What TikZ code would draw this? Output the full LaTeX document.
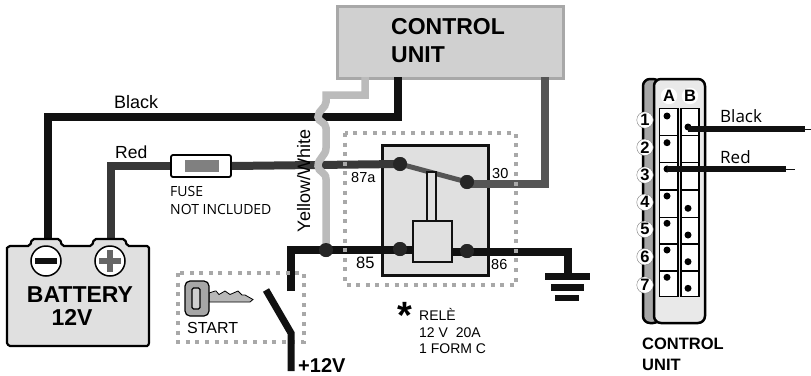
\documentclass[tikz,border=0pt]{standalone}
\usepackage{fontspec}
\setmainfont{Liberation Sans}
\newfontfamily\myr{Open Sans}
\definecolor{wblack}{HTML}{111111}
\definecolor{wred}{HTML}{383838}
\definecolor{wthirty}{HTML}{555555}
\definecolor{wgrey}{HTML}{BBBBBB}
\definecolor{boxfill}{HTML}{D0D0D0}
\definecolor{boxedge}{HTML}{A8A8A8}
\definecolor{relayfill}{HTML}{E0E0E0}
\definecolor{dotgrey}{HTML}{A8A8A8}
\definecolor{keygrey}{HTML}{A6A6A6}
\newcommand{\fs}[1]{\fontsize{#1}{#1}\selectfont}
\tikzset{
  wire/.style={line width=8pt,line join=miter,line cap=butt},
  dotbox/.style={draw=dotgrey,line width=3.5pt,dash pattern=on 4pt off 5.6pt},
  junction/.style={circle,fill=black!85,inner sep=0pt,minimum size=14pt},
  lbl/.style={inner sep=0pt,anchor=base west},
  lblc/.style={inner sep=0pt,anchor=base},
  pinA/.style={circle,fill=black,inner sep=0pt,minimum size=7pt},
  numc/.style={circle,fill=white,draw=black!50,line width=.4pt,inner sep=0pt,minimum size=16.5pt,font=\bfseries\fs{16.5}},
  cell/.style={draw=black,line width=1.2pt,fill=white},
}
\begin{document}
\begin{tikzpicture}[x=1pt,y=-1pt]
\useasboundingbox[fill=white] (0,0) rectangle (811,375);
% named anchors
\coordinate (cuGrey) at (365,77);
\coordinate (cuBlack) at (398,77);
\coordinate (cuThirty) at (545,77);
\coordinate (batNeg) at (48,240);
\coordinate (batPos) at (111,240);
\coordinate (gndTop) at (568,276);
\coordinate (startStub) at (291,291);
\coordinate (leverTop) at (266,290);
\coordinate (leverBot) at (291,333);
\coordinate (supply) at (291,371);
\coordinate (coilIn) at (425,250);
\coordinate (coilOut) at (440,252);
% control unit
\node[draw=boxedge,fill=boxfill,line width=2.5pt,minimum width=226pt,minimum height=72pt,inner sep=0pt,anchor=north west] (cu) at (336,5) {};
\node[lbl,font=\bfseries\fs{23}] (cuT1) at (391,34) {CONTROL};
\node[lbl,font=\bfseries\fs{23}] (cuT2) at (391,62) {UNIT};
% relay body
\node[draw=wblack,fill=relayfill,line width=2.5pt,minimum width=106pt,minimum height=130pt,inner sep=0pt,anchor=north west] (relay) at (381,144) {};
% junction points
\node[junction] (c87) at (400,164) {};
\node[junction] (c30) at (467,182) {};
\node[junction] (c85) at (400,249) {};
\node[junction] (c86) at (467,251) {};
\node[junction] (jY) at (326,250) {};
% fuse
\node[draw=black,fill=white,rounded corners=2pt,line width=1.8pt,minimum width=60pt,minimum height=22pt,inner sep=0pt] (fuse) at (201,166) {};
% wires
\draw[wire,wblack] (cuBlack) |- (48,117) -- (batNeg);
\draw[wire,wred] (batPos) |- (fuse.west);
\draw[wire,wred] (fuse.east) -- (c87.center);
\draw[wire,wthirty,line width=5pt] (c87.center) -- (c30.center);
\draw[wire,wthirty] (c30.center |- 0,184) -- (545,184) -- (cuThirty);
\draw[wire,wblack] (startStub) -- (291,250) -- (jY.center) -- (coilIn);
\draw[wire,wblack] (coilOut) -- (568,252) -- (gndTop);
% grey wire with hops
\draw[wgrey,line width=7.5pt,line join=miter] (cuGrey) -- (365,95) -- (326,95) -- (326,102)
  .. controls (326,108) and (318,110) .. (318,117)
  .. controls (318,122) and (326,122) .. (326,128)
  -- (326,148)
  .. controls (326,156) and (318,158) .. (318,166)
  .. controls (318,172) and (326,172) .. (326,179)
  -- (jY.center);
% redraw junctions on top
\node[junction] at (c87) {};
\node[junction] at (c30) {};
\node[junction] at (c85) {};
\node[junction] at (c86) {};
\node[junction] at (jY) {};
% armature and coil
\node[draw=wblack,fill=relayfill,line width=1.5pt,minimum width=9pt,minimum height=49pt,inner sep=0pt] (arm) at (431.5,196.5) {};
\node[draw=wblack,fill=relayfill,line width=1.5pt,minimum width=39pt,minimum height=41pt,inner sep=0pt] (coil) at (432.5,241.5) {};
% relay outline
\draw[dotbox] (345,133) rectangle (516,285);
% ground
\node[fill=wblack,minimum width=45pt,minimum height=7pt,inner sep=0pt] (g1) at (567.5,276) {};
\node[fill=wblack,minimum width=33pt,minimum height=7pt,inner sep=0pt] (g2) at (567.5,287) {};
\node[fill=wblack,minimum width=24pt,minimum height=6.5pt,inner sep=0pt] (g3) at (567,298) {};
% fuse insert and labels
\node[fill=black!50,minimum width=34pt,minimum height=12pt,inner sep=0pt] (fuseIn) at (202,166) {};
\node[lbl,font=\myr\fs{14}] (tFuse) at (170,196) {FUSE};
\node[lbl,font=\myr\fs{14}] (tNot) at (170,214) {NOT INCLUDED};
\node[lbl,font=\fs{18}] (tBlack) at (114,108) {Black};
\node[lbl,font=\fs{17.5}] (tRed) at (115,158) {Red};
\node[lblc,font=\fs{18},rotate=90] (tYW) at (310,181) {Yellow/White};
\node[lbl,font=\fs{14.5}] (t87) at (351,182) {87a};
\node[lbl,font=\fs{14.5}] (t30) at (492,178) {30};
\node[lbl,font=\fs{16.5}] (t85) at (356,268) {85};
\node[lbl,font=\fs{14.5}] (t86) at (491,269) {86};
% battery
\draw[fill=relayfill,draw=black,line width=2.2pt,rounded corners=2pt]
  (30,246) -- (32,239) -- (60,239) -- (62,246) -- (92,246) -- (94,239) -- (125,239) -- (127,246) -- (145,246)
  .. controls (148,246) and (149,248) .. (149,250) -- (149,341) .. controls (149,344) and (148,346) .. (145,346)
  -- (12,346) .. controls (9,346) and (7,344) .. (7,341) -- (7,250) .. controls (7,248) and (9,246) .. (12,246) -- cycle;
\node[circle,draw=black,fill=white,line width=1.5pt,minimum size=30pt,inner sep=0pt] (neg) at (46,261) {};
\node[circle,draw=black,fill=white,line width=1.5pt,minimum size=30pt,inner sep=0pt] (pos) at (110,261) {};
\fill[wblack] (35,258) rectangle (57,264);
\fill[black!60] (99,258) rectangle (121,264);
\fill[black!60] (107,250) rectangle (113,272);
\node[lblc,font=\bfseries\fs{23}] (tBat) at (80,302) {BATTERY};
\node[lblc,font=\bfseries\fs{23}] (t12) at (72,325) {12V};
% start area
\draw[dotbox] (178,273) rectangle (304,342);
\draw[fill=keygrey!80,draw=black,line width=.8pt]
  (209,293) -- (215,291) -- (216,291) -- (219,294.5) -- (225,291) -- (230,294.5) -- (238,291) -- (242,295) -- (245,295) -- (253,299.5) -- (250,302) -- (209,302) -- cycle;
\node[draw=black,fill=keygrey,rounded corners=5pt,line width=1.2pt,minimum width=24pt,minimum height=35pt,inner sep=0pt] (key) at (197,298.5) {};
\node[draw=black,fill=boxfill,rounded corners=1.5pt,line width=1.2pt,minimum width=8pt,minimum height=21pt,inner sep=0pt] (keySlot) at (196,298.5) {};
\node[lbl,font=\fs{16}] (tStart) at (187,333) {START};
\draw[wire,wblack,line width=7pt] (leverTop) -- (leverBot) -- (supply);
\node[lbl,font=\bfseries\fs{20}] (t12v) at (298,372) {+12V};
% rele note
\node[lblc,font=\bfseries\fs{38}] (tStar) at (405,328) {*};
\node[lbl,font=\fs{14}] (tR1) at (419,320) {RELÈ};
\node[lbl,font=\fs{14}] (tR2) at (419,337) {12 V\ \ 20A};
\node[lbl,font=\fs{14}] (tR3) at (419,353) {1 FORM C};
% connector
\draw[fill=keygrey,draw=black,line width=2.5pt,rounded corners=7pt] (660,79) rectangle (643,323);
\draw[fill=relayfill!70!white,draw=black,line width=2.5pt,rounded corners=7pt] (654,79) rectangle (705,323);
\node[circle,fill=white,minimum size=16pt,inner sep=0pt,font=\bfseries\fs{16.5}] (colA) at (669,96) {A};
\node[circle,fill=white,minimum size=16pt,inner sep=0pt,font=\bfseries\fs{16.5}] (colB) at (690,96) {B};
\foreach \t/\b in {108.5/135.7,135.7/162.7,162.7/190,190/217.3,217.3/244,244/271,271/296.5}{
  \draw[cell] (659.5,\t) rectangle (678,\b);
  \draw[cell] (681,\t) rectangle (699,\b);
}
\foreach \y in {116,142.7,196,223.3,250,277.3}{\node[pinA] at (667,\y) {};}
\foreach \y in {208.3,235,261.7,288.3}{\node[pinA] at (688,\y) {};}
\node[pinA] (pB1) at (688,127) {};
\node[pinA] (pA3) at (667,169) {};
\coordinate (endB) at (805,129);
\coordinate (tipB) at (811,129);
\coordinate (endA) at (786,169);
\coordinate (tipA) at (795,169);
\draw[wblack,line width=6pt] (pB1.center |- endB) -- (endB);
\draw[wblack,line width=1pt] (endB) -- (tipB);
\draw[wblack,line width=6pt] (pA3.center) -- (endA);
\draw[wblack,line width=1pt] (endA) -- (tipA);
\node[numc] at (645,120) {1};
\node[numc] at (645,147.3) {2};
\node[numc] at (645,175) {3};
\node[numc] at (645,202.3) {4};
\node[numc] at (645,229.3) {5};
\node[numc] at (645,256.7) {6};
\node[numc] at (645,285) {7};
\node[lbl,font=\myr\fs{17}] (tBlack2) at (720,122) {Black};
\node[lbl,font=\myr\fs{17}] (tRed2) at (720,163) {Red};
\node[lbl,font=\bfseries\fs{16.5}] (tCu1) at (642,349) {CONTROL};
\node[lbl,font=\bfseries\fs{16.5}] (tCu2) at (642,370) {UNIT};
\end{tikzpicture}
\end{document}
